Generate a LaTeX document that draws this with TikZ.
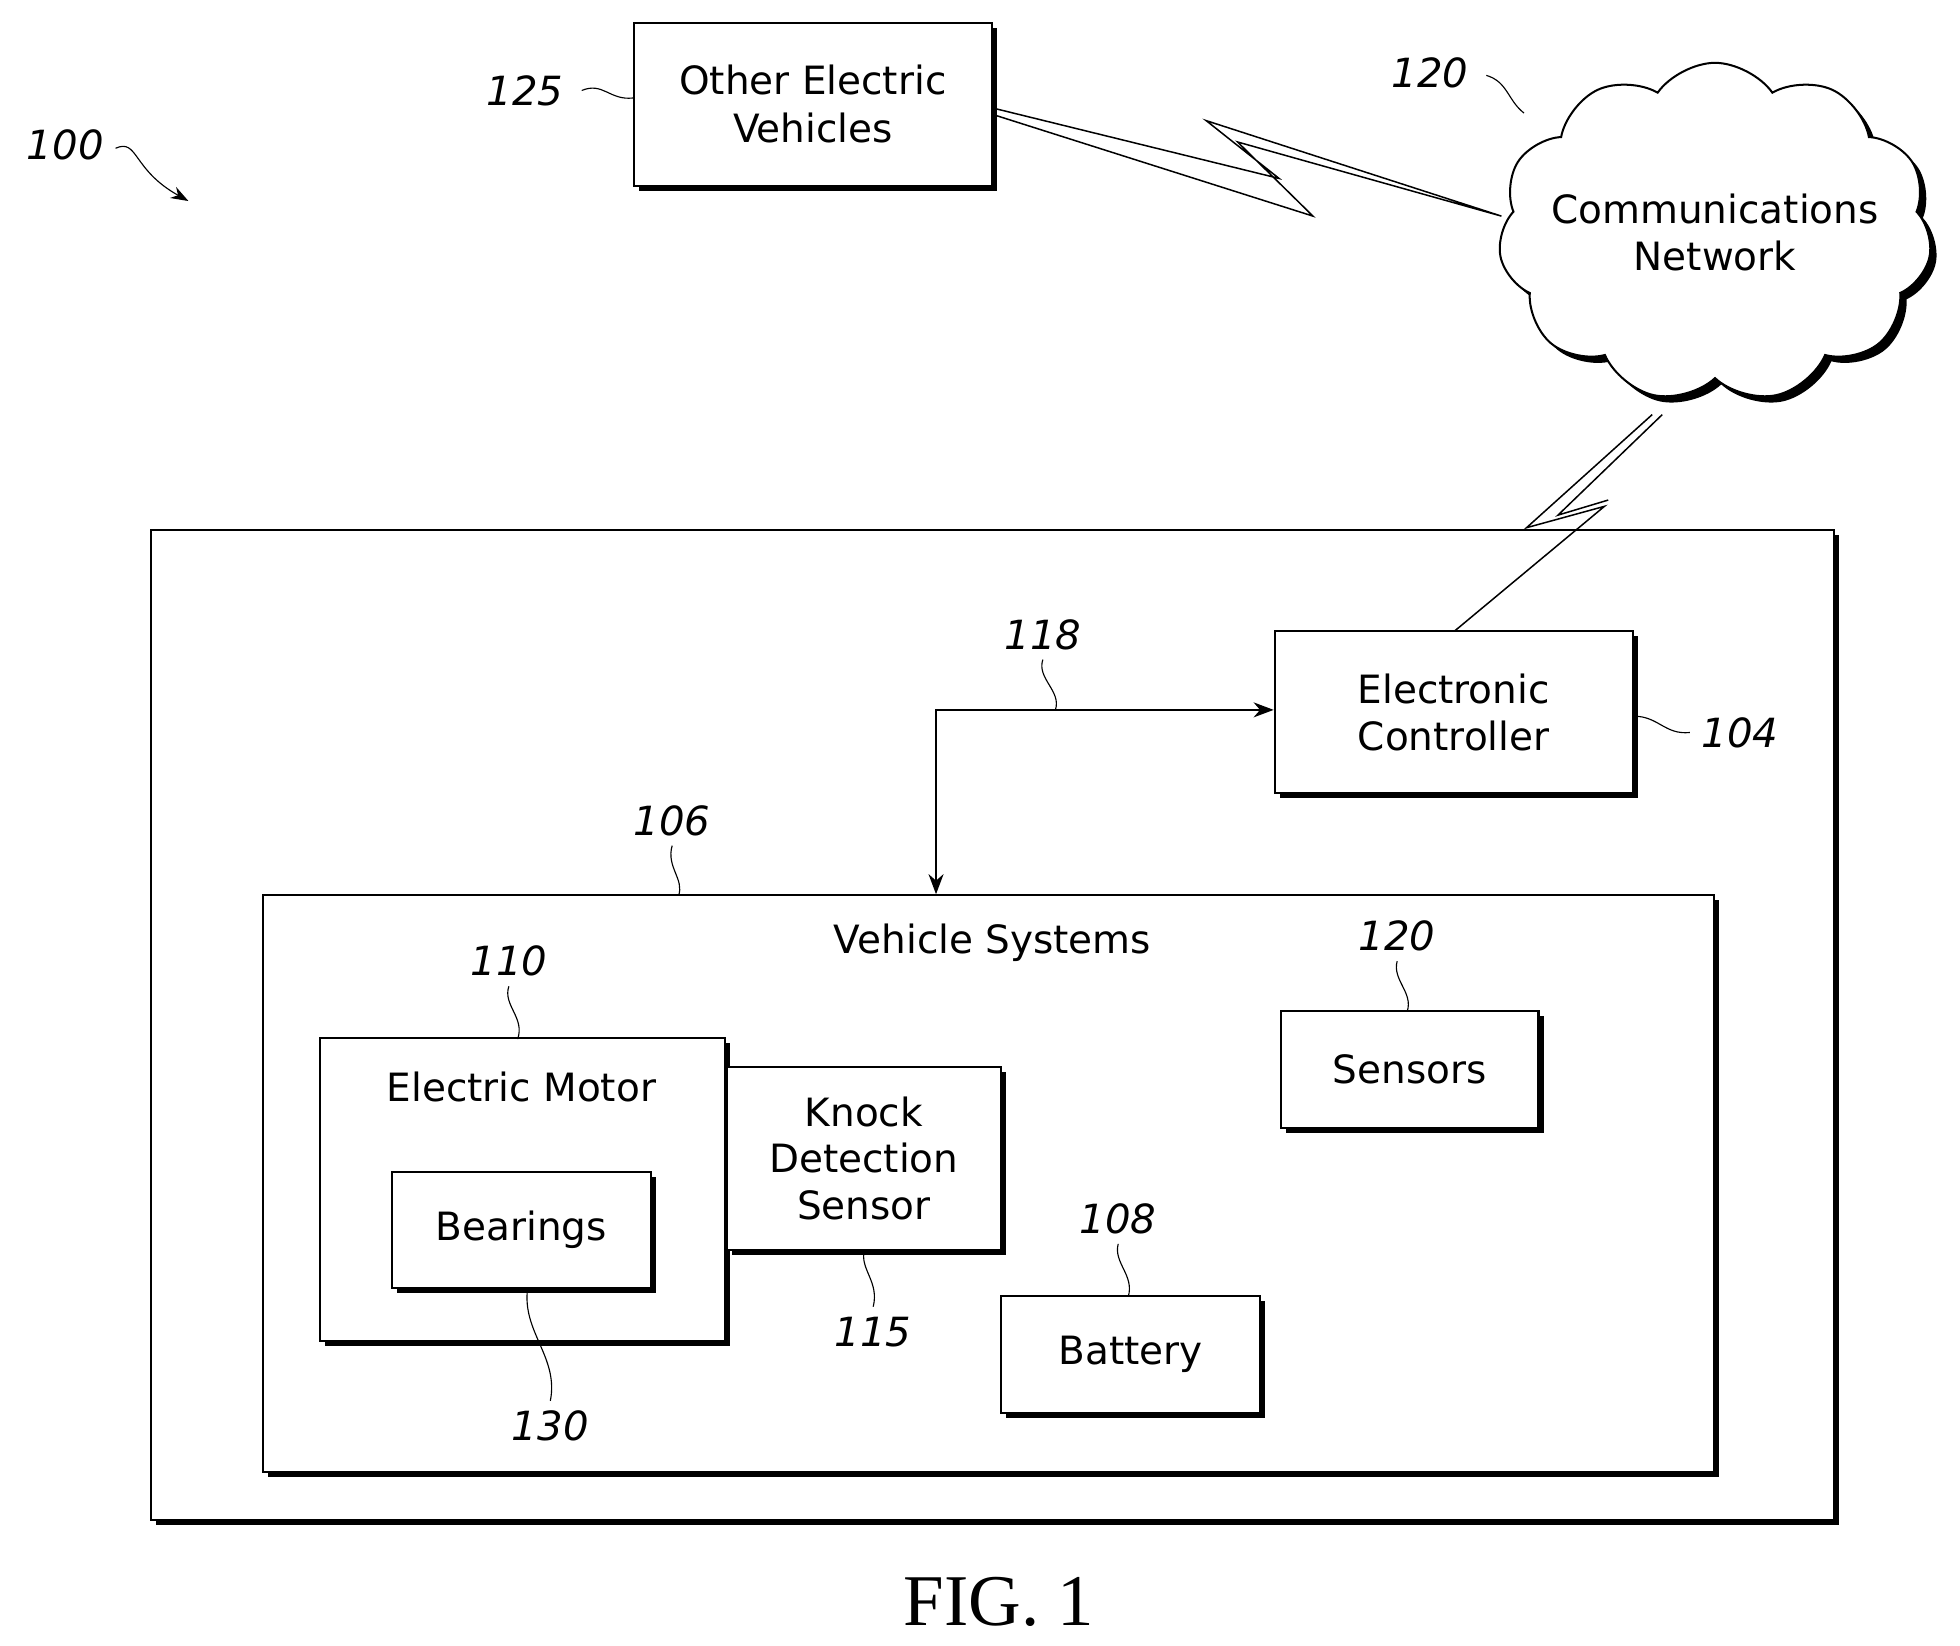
\documentclass[tikz,border=0pt]{standalone}
\usepackage{fontspec}
\setmainfont{DejaVu Sans}
\usetikzlibrary{shapes.symbols,shadows,arrows.meta}
\begin{document}
\begin{tikzpicture}[x=1pt,y=-1pt,
  box/.style={draw,line width=1.6pt,fill=white,drop shadow={shadow xshift=4pt,shadow yshift=-4pt,fill=black,opacity=1},align=center,font=\fontsize{31}{38}\selectfont},
  lab/.style={font=\fontsize{32}{34}\selectfont\itshape},
  lead/.style={line width=0.9pt}]
\useasboundingbox (0,0) rectangle (1560,1310);
% top
\node[box,minimum width=285pt,minimum height=130pt] (oev) at (647,83) {Other Electric\\Vehicles};
\node[cloud,cloud puffs=11,cloud puff arc=110,aspect=1.25,draw,line width=1.6pt,fill=white,minimum width=345pt,minimum height=270pt,inner sep=0pt,drop shadow={shadow xshift=5pt,shadow yshift=-5pt,fill=black,opacity=1}] (net) at (1365,185) {};
\node[align=center,font=\fontsize{31}{38}\selectfont] (nett) at (net.center) {Communications\\Network};
\draw[line width=1.2pt] (oev.east)++(0,3) coordinate (z1) -- (1018,142) -- (960,96) -- (1195,172) -- (985,113) -- (1045,172) -- (793,92);
% outer
\node[draw,line width=1.6pt,drop shadow={shadow xshift=4pt,shadow yshift=-4pt,fill=black,opacity=1},fill=white,minimum width=1340pt,minimum height=788pt] (outer) at (790,816) {};
\node[box,minimum width=285pt,minimum height=129pt] (ec) at (1157,567) {Electronic\\Controller};
\draw[line width=1.2pt] (1315,330) -- (1215,420) -- (1277,403) -- (1158,502);
\draw[line width=1.2pt] (1323,330) -- (1240,410) -- (1280,398);
\node[draw,line width=1.6pt,drop shadow={shadow xshift=4pt,shadow yshift=-4pt,fill=black,opacity=1},fill=white,minimum width=1155pt,minimum height=459pt] (vs) at (787,942) {};
\node[font=\fontsize{31}{38}\selectfont] (vst) at (790,750) {Vehicle Systems};
\coordinate (corner) at (745,565);
\draw[line width=1.2pt,{Stealth[length=16pt,width=12pt]}-{Stealth[length=16pt,width=12pt]}] (vs.north -| corner) -- (corner) -- (ec.west |- corner);
% inner
\node[box,minimum width=322pt,minimum height=241pt] (em) at (416,947) {};
\node[font=\fontsize{31}{38}\selectfont] (emt) at (415,865) {Electric Motor};
\node[box,minimum width=206pt,minimum height=92pt] (br) at (415,979) {Bearings};
\node[box,minimum width=218pt,minimum height=145pt,anchor=west,font=\fontsize{31}{37}\selectfont] (kd) at (em.east |- 0,922) {Knock\\Detection\\Sensor};
\node[box,minimum width=205pt,minimum height=93pt] (se) at (1122,851) {Sensors};
\node[box,minimum width=206pt,minimum height=93pt] (ba) at (900,1078) {Battery};
% labels
\node[lab] (l100) at (52,115) {100};
\draw[lead,-{Stealth[length=14pt,width=10pt]}] (92,118) .. controls (110,110) and (105,135) .. (150,160);
\node[lab] (l125) at (418,72) {125};
\draw[lead] (463,72) .. controls (480,65) and (485,80) .. (oev.west |- 0,78);
\node[lab] (l120a) at (1138,58) {120};
\draw[lead] (1183,60) .. controls (1200,65) and (1200,80) .. (1213,90);
\node[lab] (l104) at (1385,583) {104};
\draw[lead] (ec.east |- 0,570) .. controls (1320,570) and (1325,585) .. (1345,583);
\node[lab] (l118) at (830,505) {118};
\draw[lead] (830,525) .. controls (825,540) and (845,550) .. (840,565);
\node[lab] (l106) at (535,653) {106};
\draw[lead] (535,673) .. controls (530,690) and (545,700) .. (540,713);
\node[lab] (l110) at (405,765) {110};
\draw[lead] (405,785) .. controls (400,800) and (418,810) .. (412,827);
\node[lab] (l120b) at (1112,745) {120};
\draw[lead] (1112,765) .. controls (1108,780) and (1125,790) .. (1120,805);
\node[lab] (l108) at (890,970) {108};
\draw[lead] (890,990) .. controls (886,1005) and (903,1015) .. (898,1032);
\node[lab] (l115) at (695,1060) {115};
\draw[lead] (688,995) .. controls (684,1010) and (700,1020) .. (695,1040);
\node[lab] (l130) at (438,1135) {130};
\draw[lead] (420,1025) .. controls (415,1060) and (445,1080) .. (438,1115);
\node[font=\fontspec{Liberation Serif}\fontsize{58}{60}\selectfont] (fig) at (795,1275) {FIG. 1};
\end{tikzpicture}
\end{document}
